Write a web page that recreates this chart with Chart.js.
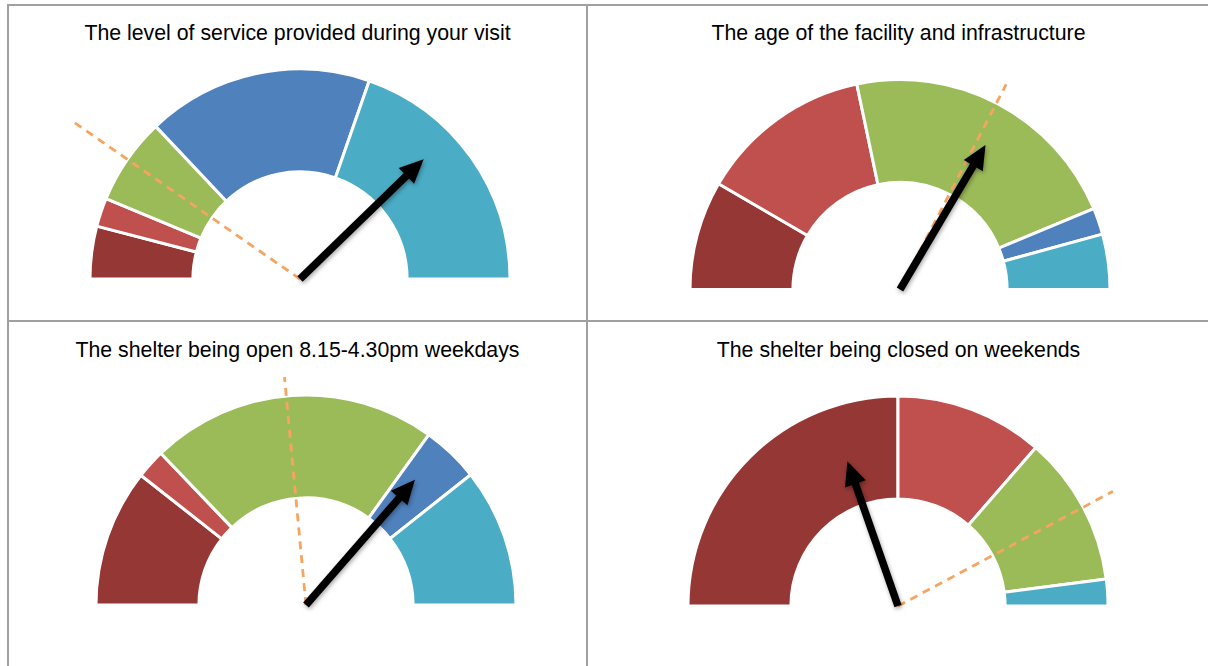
<!DOCTYPE html>
<html>
<head>
<meta charset="utf-8">
<title>Gauges</title>
<script src="https://cdn.jsdelivr.net/npm/chart.js@4.4.1/dist/chart.umd.min.js"></script>
<style>
  body { margin: 0; background: #fff; font-family: "Liberation Sans", Arial, sans-serif; }
  #page { position: relative; width: 1208px; height: 666px; overflow: hidden; }
  .rule { position: absolute; background: #a0a0a0; }
  .title { position: absolute; text-align: center; font-size: 21.3px; line-height: 24px; color: #000; white-space: nowrap; }
  canvas { position: absolute; }
</style>
</head>
<body>
<div id="page">
  <div class="rule" style="left:7px;top:4px;width:1210px;height:2px"></div>
  <div class="rule" style="left:7px;top:4px;width:2px;height:700px"></div>
  <div class="rule" style="left:586px;top:4px;width:2px;height:700px"></div>
  <div class="rule" style="left:7px;top:320px;width:1210px;height:2px"></div>

  <div class="title" style="left:9px;top:21px;width:577px">The level of service provided during your visit</div>
  <div class="title" style="left:588px;top:21px;width:621px">The age of the facility and infrastructure</div>
  <div class="title" style="left:9px;top:338px;width:577px">The shelter being open 8.15-4.30pm weekdays</div>
  <div class="title" style="left:588px;top:338px;width:621px">The shelter being closed on weekends</div>

  <canvas id="g0"></canvas>
  <canvas id="g1"></canvas>
  <canvas id="g2"></canvas>
  <canvas id="g3"></canvas>
</div>

<script>
// rating bands, worst to best
var ratings = ['Very dissatisfied', 'Dissatisfied', 'Neutral', 'Satisfied', 'Very satisfied'];

// share of responses per band (%)
var service  = [8.1, 4.4, 13.4, 34.8, 39.3];
var facility = [16.8, 26.6, 44.0, 4.1, 8.5];
var weekdays = [21.2, 4.5, 44.2, 8.8, 21.3];
var weekends = [50.0, 22.8, 23.1, 0, 4.1];

// needle (score) and dashed marker (importance), on the same 0-100 scale
var needleValues = [75.5, 67.0, 72.8, 39.3];
var markerValues = [19.3, 65.2, 47.0, 84.4];

var bandColors = ['#953735', '#c0504d', '#9bbb59', '#4f81bd', '#4bacc6'];

// where each gauge sits on the page
var cells = [
  {x: 9,   y: 6,   w: 577, h: 314},
  {x: 588, y: 6,   w: 620, h: 314},
  {x: 9,   y: 322, w: 577, h: 344},
  {x: 588, y: 322, w: 620, h: 344}
];
var hubs = [
  {cx: 300, cy: 279,   r: 210, needle: 0.82, marker: 1.31},
  {cx: 900, cy: 289.5, r: 210, needle: 0.80, marker: 1.10},
  {cx: 306, cy: 605,   r: 210, needle: 0.79, marker: 1.09},
  {cx: 898, cy: 606,   r: 210, needle: 0.73, marker: 1.16}
];
var bw = 3;

var gaugeMarks = {
  id: 'gaugeMarks',
  afterDatasetsDraw: function(chart, args, opts) {
    var arcs = chart.getDatasetMeta(0).data;
    var first = arcs[0], last = arcs[arcs.length - 1];
    var x = first.x, y = first.y, r = first.outerRadius;
    var total = chart.data.datasets[0].data.reduce(function(a, b) { return a + b; }, 0);
    function angleOf(v) {
      return first.startAngle + (last.endAngle - first.startAngle) * v / total;
    }
    var ctx = chart.ctx;

    // dashed marker
    var a = angleOf(opts.marker);
    ctx.save();
    ctx.strokeStyle = '#f6a560';
    ctx.lineWidth = 2.8;
    ctx.setLineDash([8, 6]);
    ctx.beginPath();
    ctx.moveTo(x, y);
    ctx.lineTo(x + Math.cos(a) * r * opts.markerLen, y + Math.sin(a) * r * opts.markerLen);
    ctx.stroke();
    ctx.restore();

    // needle with arrow head
    var b = angleOf(opts.value);
    var ux = Math.cos(b), uy = Math.sin(b);
    var len = r * opts.needleLen;
    var tipX = x + ux * len, tipY = y + uy * len;
    var head = 24, hw = 11;
    var bx = tipX - ux * head, by = tipY - uy * head;
    ctx.save();
    ctx.shadowColor = 'rgba(0,0,0,0.35)';
    ctx.shadowBlur = 4;
    ctx.shadowOffsetX = 1;
    ctx.shadowOffsetY = 2;
    ctx.strokeStyle = '#000';
    ctx.lineWidth = 7.5;
    ctx.beginPath();
    ctx.moveTo(x, y);
    ctx.lineTo(bx + ux * 3, by + uy * 3);
    ctx.stroke();
    ctx.fillStyle = '#000';
    ctx.beginPath();
    ctx.moveTo(tipX, tipY);
    ctx.lineTo(bx - uy * hw, by + ux * hw);
    ctx.lineTo(bx + uy * hw, by - ux * hw);
    ctx.closePath();
    ctx.fill();
    ctx.restore();
  }
};

function gauge(i, values) {
  var cell = cells[i], hub = hubs[i];
  var cv = document.getElementById('g' + i);
  cv.width = cell.w;
  cv.height = cell.h;
  cv.style.left = cell.x + 'px';
  cv.style.top = cell.y + 'px';

  var cx = hub.cx - cell.x, cy = hub.cy - cell.y, R = hub.r;
  var pad = {
    left: cx - R - bw / 2,
    right: cell.w - (cx + R + bw / 2),
    top: cy - R - bw / 2,
    bottom: cell.h - (cy + bw / 2)
  };

  return new Chart(cv.getContext('2d'), {
    type: 'doughnut',
    data: {
      labels: ratings,
      datasets: [{
        data: values,
        backgroundColor: bandColors,
        borderColor: '#fff',
        borderWidth: bw,
        hoverBorderWidth: bw,
        offset: 0,
        hoverOffset: 0
      }]
    },
    options: {
      responsive: false,
      animation: false,
      events: [],
      rotation: -90,
      circumference: 180,
      cutout: '51%',
      layout: { padding: pad },
      plugins: {
        legend: { display: false },
        tooltip: { enabled: false },
        gaugeMarks: {
          value: needleValues[i],
          marker: markerValues[i],
          needleLen: hub.needle,
          markerLen: hub.marker
        }
      }
    },
    plugins: [gaugeMarks]
  });
}

gauge(0, service);
gauge(1, facility);
gauge(2, weekdays);
gauge(3, weekends);
</script>
</body>
</html>
